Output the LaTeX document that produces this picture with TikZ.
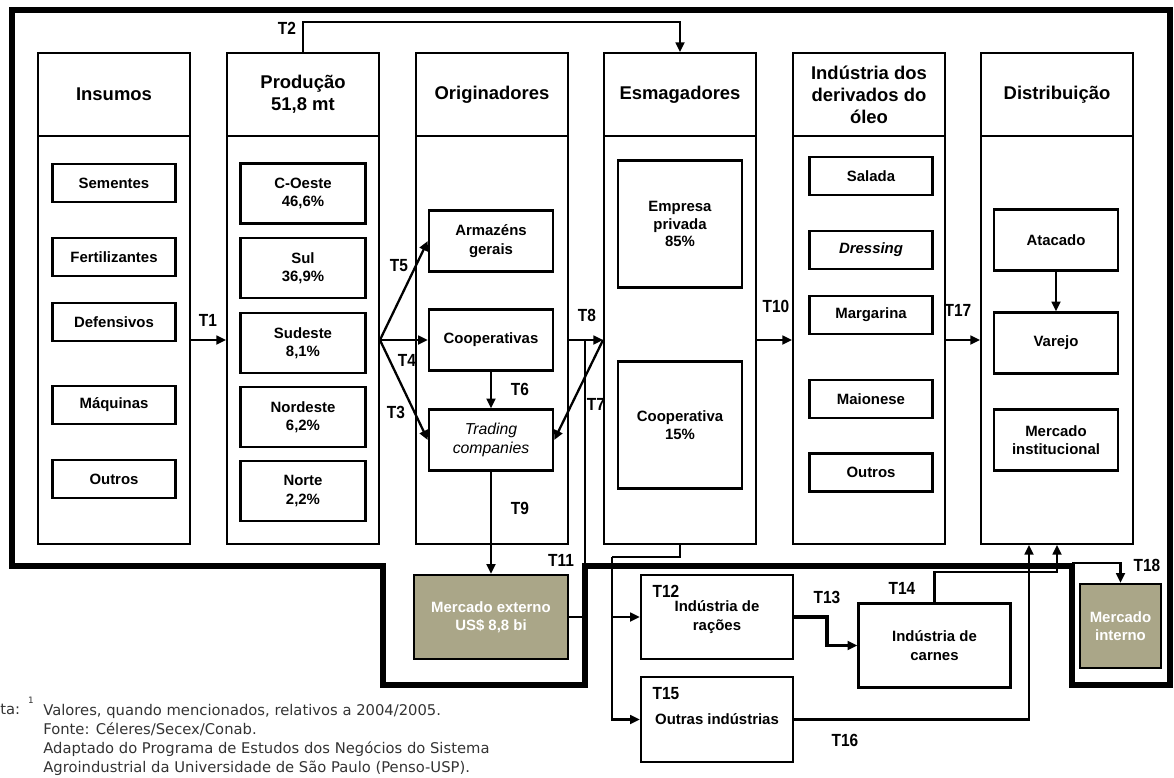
\documentclass[tikz,border=0pt]{standalone}
\usepackage{fontspec}
\setmainfont{Liberation Sans}
\newfontfamily\notefont{DejaVu Sans}
\newfontfamily\narrowfont{Liberation Sans}[FakeStretch=0.88]
\usetikzlibrary{arrows.meta,positioning,calc}
\definecolor{mktfill}{RGB}{170,166,136}

\begin{document}
\begin{tikzpicture}[x=0.02cm, y={(0,-0.02cm)},
    colhead/.style={draw, line width=1.1pt, minimum width=3.04cm, minimum height=1.66cm, inner sep=0pt, align=center, font=\fontsize{10.5}{12.5}\selectfont\bfseries},
    colbody/.style={draw, line width=1.1pt, minimum width=3.04cm, minimum height=8.16cm, inner sep=0pt},
    item/.style={draw, line width=1.4pt, fill=white, inner sep=0pt, align=center, minimum width=2.46cm, minimum height=0.76cm, font=\fontsize{8.5}{10.5}\selectfont\bfseries},
    region/.style={item, minimum width=2.5cm, minimum height=1.2cm},
    agent/.style={item, minimum width=2.48cm, minimum height=1.22cm},
    crusher/.style={item, minimum width=2.48cm, minimum height=2.54cm, font=\fontsize{8.5}{10}\selectfont\bfseries},
    indbox/.style={item, minimum width=3.04cm, minimum height=1.68cm},
    mkt/.style={item, fill=mktfill, text=white},
    frame/.style={line width=3.6pt},
    ln/.style={line width=1.3pt},
    arr/.style={-{Triangle[length=5.5pt,width=5pt]}, line width=1.3pt},
    tl/.style={font=\narrowfont\fontsize{10}{11}\selectfont\bfseries, inner sep=0pt},
    note/.style={font=\notefont\fontsize{8.4}{10.8}\selectfont, text=black!80, inner sep=0pt, align=left}
]
\useasboundingbox (0,0) rectangle (1174,778);
\draw[frame] (12,10) -- (1170,10) -- (1170,685) -- (1072,685) -- (1072,566) -- (585,566) -- (585,685) -- (383,685) -- (383,566) -- (12,566) -- cycle;

\node[colhead] (insH) at (114,94.5) {Insumos};
\node[colbody] (insB) at (114,340) {};
\node[colhead] (prodH) at (303,94.5) {Produção\\51,8 mt};
\node[colbody] (prodB) at (303,340) {};
\node[colhead] (origH) at (492,94.5) {Originadores};
\node[colbody] (origB) at (492,340) {};
\node[colhead] (esmH) at (680,94.5) {Esmagadores};
\node[colbody] (esmB) at (680,340) {};
\node[colhead] (derH) at (869,94.5) {Indústria dos\\derivados do\\óleo};
\node[colbody] (derB) at (869,340) {};
\node[colhead] (distH) at (1057,94.5) {Distribuição};
\node[colbody] (distB) at (1057,340) {};

\node[item] (sem) at (114,183) {Sementes};
\node[item] (fert) at (114,257) {Fertilizantes};
\node[item] (defen) at (114,322) {Defensivos};
\node[item] (maq) at (114,405) {Máquinas};
\node[item] (insout) at (114,479) {Outros};

\node[region] (coeste) at (303,193.5) {C-Oeste\\46,6\%};
\node[region] (sul) at (303,268) {Sul\\36,9\%};
\node[region] (sudeste) at (303,343) {Sudeste\\8,1\%};
\node[region] (nordeste) at (303,417) {Nordeste\\6,2\%};
\node[region] (norte) at (303,491) {Norte\\2,2\%};

\node[agent] (arm) at (491,241) {Armazéns\\gerais};
\node[agent] (coop) at (491,340) {Cooperativas};
\node[agent, font=\fontsize{9}{10.5}\selectfont\itshape] (trad) at (491,440) {Trading\\companies};

\node[crusher] (priv) at (680,224) {Empresa\\privada\\85\%};
\node[crusher] (esmcoop) at (680,425) {Cooperativa\\15\%};

\node[item] (salada) at (871,176) {Salada};
\node[item, font=\fontsize{8.5}{10.5}\selectfont\bfseries\itshape] (dress) at (871,250) {Dressing};
\node[item] (marg) at (871,315) {Margarina};
\node[item] (maio) at (871,399) {Maionese};
\node[item] (derout) at (871,472.5) {Outros};

\node[agent] (atac) at (1056,240) {Atacado};
\node[agent] (varejo) at (1056,343) {Varejo};
\node[agent] (inst) at (1056,440) {Mercado\\institucional};

\node[mkt, minimum width=3.08cm, minimum height=1.68cm] (mext) at (491,617) {Mercado externo\\US\$ 8,8 bi};
\node[indbox] (racoes) at (717,617) {Indústria de\\rações};
\node[indbox] (carnes) at (934.5,645.5) {Indústria de\\carnes};
\node[indbox, minimum height=1.7cm] (outras) at (717,719.5) {Outras indústrias};
\node[mkt, minimum width=1.62cm, minimum height=1.68cm] (mint) at (1120.5,626) {Mercado\\interno};

\coordinate (fan) at (prodB.east);
\coordinate (j8) at (585,340);
\coordinate (split) at (612,557);
\coordinate (c18) at (1072,563);

\draw[arr] (insB.east) -- (prodB.west);
\draw[arr] (prodH.north) -- ++(0,-30) -| (esmH.north);
\draw[arr] (fan) -- (arm.west);
\draw[arr] (fan) -- (coop.west);
\draw[arr] (fan) -- (trad.west);
\draw[arr] (coop) -- (trad);
\draw[arr] (origB.east) -- (esmB.west);
\draw[arr] (esmB.west) -- (trad.east);
\draw[arr] (trad) -- (mext);
\draw[ln] (j8) |- (mext.east);
\draw[arr] (esmB.east) -- (derB.west);
\draw[arr] (derB.east) -- (distB.west);
\draw[arr] (atac) -- (varejo);
\draw[ln] (esmB.south) |- (split);
\draw[arr] (split) |- (racoes.west);
\draw[arr] (split) |- (outras.west);
\draw[arr, line width=2pt] (racoes.east) -- ++(33,0) |- (carnes.west);
\draw[arr] (carnes.north) -- ++(0,-30) -| (distB.south);
\draw[arr] (outras.east) -| ($(distB.south)+(-28,0)$);
\draw[arr] (c18) -| (mint.north);

\node[tl] (t1) at (208,320) {T1};
\node[tl] (t2) at (287,28) {T2};
\node[tl] (t3) at (396,412) {T3};
\node[tl] (t4) at (407,360) {T4};
\node[tl] (t5) at (399,266) {T5};
\node[tl] (t6) at (520,389) {T6};
\node[tl] (t7) at (596,404) {T7};
\node[tl] (t8) at (587,315) {T8};
\node[tl] (t9) at (520,508) {T9};
\node[tl] (t10) at (776,306) {T10};
\node[tl] (t11) at (561,560) {T11};
\node[tl] (t12) at (666,591) {T12};
\node[tl] (t13) at (827,597) {T13};
\node[tl] (t14) at (902,588) {T14};
\node[tl] (t15) at (666,694) {T15};
\node[tl] (t16) at (845,740) {T16};
\node[tl] (t17) at (958,310) {T17};
\node[tl] (t18) at (1147,565) {T18};

\node[note, anchor=north west] (notalbl) at (0,704) {ta:};
\node[note, font=\notefont\fontsize{5}{6}\selectfont] (notasup) at (31,700) {1};
\node[note, anchor=north west] (nota) at (43,704) {Valores, quando mencionados, relativos a 2004/2005.\\Fonte: Céleres/Secex/Conab.\\Adaptado do Programa de Estudos dos Negócios do Sistema\\Agroindustrial da Universidade de São Paulo (Penso-USP).};
\end{tikzpicture}
\end{document}
